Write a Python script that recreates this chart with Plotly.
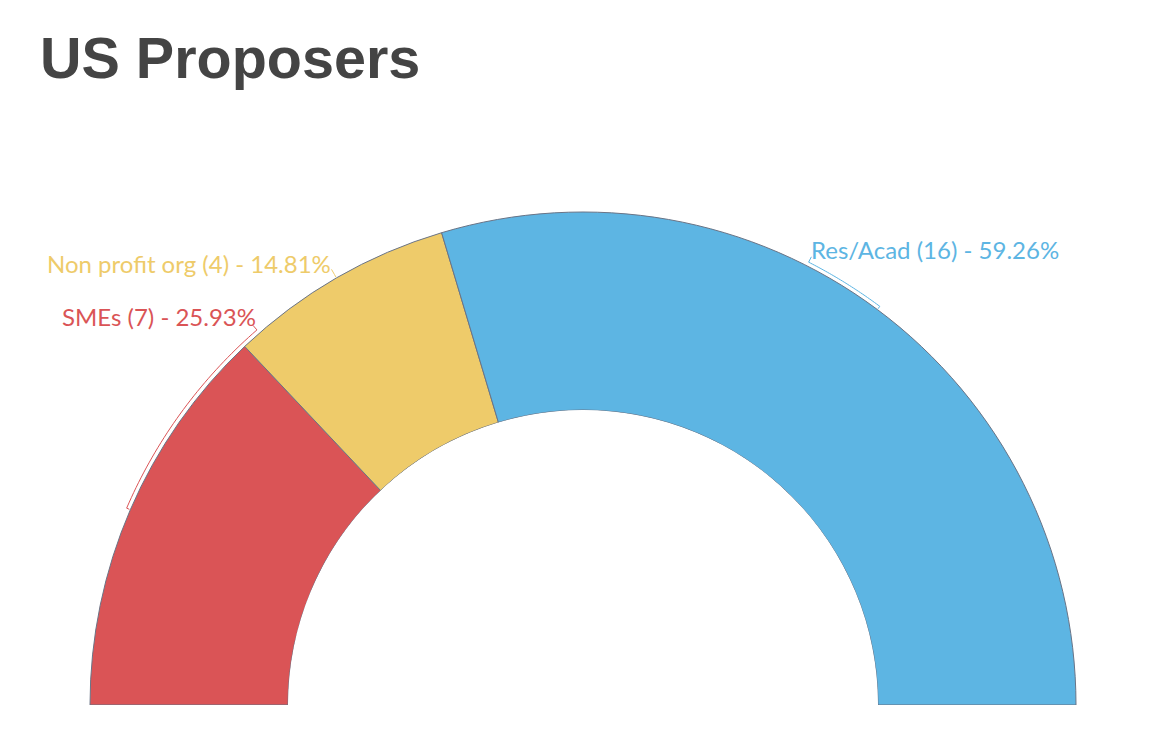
import numpy as np
import plotly.graph_objects as go

# ---- data ----
categories = ["SMEs", "Non profit org", "Res/Acad"]
counts = [7, 4, 16]
colors = ["#DA5456", "#EECB6A", "#5DB5E3"]

# label layout: anchor angle (deg) where the connector bracket ends,
# horizontal anchor and pixel offsets of the text
label_anchor_deg = [131.0, 120.0, 63.0]
label_xanchor = ["right", "right", "left"]
label_shift = [(4, 9), (0, 6), (-1, 7)]

total = sum(counts)
pcts = [c / total * 100 for c in counts]
widths = [c / total * 180.0 for c in counts]
starts = 180.0 - np.concatenate([[0], np.cumsum(widths)[:-1]])
mids = starts - np.array(widths) / 2

# layout geometry (pixels)
W, H = 1172, 735
CX, CY = 583, 705          # centre of the half ring
R_IN, R_OUT = 295, 493     # inner / outer radius of the ring
RMAX = 1.2                 # radial axis range max (bars reach r=1)
R_TOTAL = R_IN + RMAX * (R_OUT - R_IN)
HOLE = R_IN / R_TOTAL

fig = go.Figure()

fig.add_trace(go.Barpolar(
    r=[1] * len(counts),
    theta=mids,
    width=widths,
    marker=dict(color=colors, line=dict(color="#6a7486", width=1)),
    hoverinfo="skip",
    showlegend=False,
))

px_r = lambda p: (p - R_IN) / (R_OUT - R_IN)
R_ARC = px_r(R_OUT + 4)
R_TICK_PX = R_OUT + 10
annotations = []
for i, cat in enumerate(categories):
    a0, a1 = mids[i], label_anchor_deg[i]
    th = list(np.linspace(a0, a1, 40))
    rr = [R_ARC] * len(th)
    th = [a0] + th + [a1]
    rr = [px_r(R_OUT + 1)] + rr + [px_r(R_TICK_PX)]
    fig.add_trace(go.Scatterpolar(
        r=rr, theta=th, mode="lines",
        line=dict(color=colors[i], width=1),
        hoverinfo="skip", showlegend=False,
    ))
    ax = CX + R_TICK_PX * np.cos(np.radians(a1))
    ay = CY - R_TICK_PX * np.sin(np.radians(a1))
    annotations.append(dict(
        x=ax / W, y=1 - ay / H, xref="paper", yref="paper",
        xanchor=label_xanchor[i], yanchor="middle",
        xshift=label_shift[i][0], yshift=label_shift[i][1],
        showarrow=False, borderpad=0,
        text=f"{cat} ({counts[i]}) - {pcts[i]:.2f}%",
        font=dict(family="Lato, PT Sans, sans-serif", size=24, color=colors[i]),
    ))

fig.update_layout(
    width=W, height=H,
    margin=dict(l=0, r=0, t=0, b=0),
    paper_bgcolor="white",
    annotations=annotations,
    title=dict(text="<b>US Proposers</b>", x=40 / W, xanchor="left",
               y=1 - 58 / H, yanchor="middle",
               font=dict(family="Liberation Sans, Arial, sans-serif", size=57.5, color="#444444")),
    polar=dict(
        domain=dict(x=[(CX - R_TOTAL) / W, (CX + R_TOTAL) / W],
                    y=[(H - CY) / H, (H - CY + R_TOTAL) / H]),
        sector=[0, 180],
        hole=HOLE,
        bgcolor="rgba(0,0,0,0)",
        radialaxis=dict(range=[0, RMAX], visible=False, showgrid=False),
        angularaxis=dict(visible=False, showgrid=False, direction="counterclockwise", rotation=0),
        bargap=0,
    ),
)

fig.write_html("out.html")
